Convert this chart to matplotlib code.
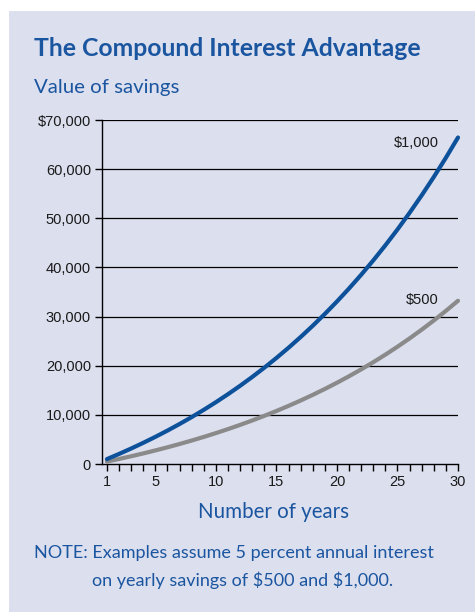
import matplotlib
matplotlib.use("Agg")
import matplotlib.pyplot as plt
from matplotlib.patches import Rectangle

plt.rcParams["text.parse_math"] = False

years = list(range(1, 31))
savings_1000 = [1000, 2050, 3152, 4310, 5526, 6802, 8142, 9549, 11027, 12578,
                14207, 15917, 17713, 19599, 21579, 23657, 25840, 28132, 30539, 33066,
                35719, 38505, 41430, 44502, 47727, 51113, 54669, 58403, 62323, 66439]
savings_500 = [500, 1025, 1576, 2155, 2763, 3401, 4071, 4775, 5513, 6289,
               7103, 7959, 8856, 9799, 10789, 11829, 12920, 14066, 15270, 16533,
               17860, 19253, 20715, 22251, 23864, 25557, 27335, 29201, 31161, 33219]
y_ticks = [0, 10000, 20000, 30000, 40000, 50000, 60000, 70000]
y_labels = ["0", "10,000", "20,000", "30,000", "40,000", "50,000", "60,000", "$70,000"]
x_label_ticks = [1, 5, 10, 15, 20, 25, 30]

BG = "#dcdfee"
BLUE = "#0d519b"
TXT_BLUE = "#1a55a0"
GRAY = "#8a8a8a"

W, H = 475, 612
fig = plt.figure(figsize=(W / 100, H / 100), dpi=100)
fig.patch.set_facecolor("white")
fig.add_artist(Rectangle((9 / W, 0), 1 - 9 / W, 1 - 11 / H, transform=fig.transFigure,
                         facecolor=BG, edgecolor="none", zorder=0))

ax = fig.add_axes([102 / W, 148 / H, (458 - 102) / W, (492 - 148) / H])
ax.set_facecolor("none")
ax.set_xlim(0.59, 30)
ax.set_ylim(0, 70000)

for t in y_ticks[1:]:
    ax.axhline(t, color="black", lw=0.9, zorder=1)

ax.plot(years, savings_500, color=GRAY, lw=3, solid_capstyle="round", clip_on=False, zorder=3)
ax.plot(years, savings_1000, color=BLUE, lw=3, solid_capstyle="round", clip_on=False, zorder=4)

for s in ["top", "right"]:
    ax.spines[s].set_visible(False)
ax.spines["left"].set_linewidth(1.0)
ax.spines["bottom"].set_linewidth(1.0)

TICK_FS = 10.5
ax.set_yticks(y_ticks)
ax.set_yticklabels(y_labels, fontfamily="Liberation Sans", fontsize=TICK_FS, color="#1a1a1a")
ax.set_xticks(years, minor=False)
ax.set_xticklabels([str(y) if y in x_label_ticks else "" for y in years],
                   fontfamily="Liberation Sans", fontsize=TICK_FS, color="#1a1a1a")
ax.tick_params(axis="both", direction="out", length=5, width=1.0, color="black")
ax.tick_params(axis="x", pad=3)
ax.tick_params(axis="y", pad=3)

ax.text(28.4, 65300, "$1,000", ha="right", va="center", fontfamily="Liberation Sans",
        fontsize=TICK_FS, color="#1a1a1a")
ax.text(28.4, 33400, "$500", ha="right", va="center", fontfamily="Liberation Sans",
        fontsize=TICK_FS, color="#1a1a1a")

fig.text(34 / W, 1 - 49 / H, "The Compound Interest Advantage", fontfamily="Lato",
         fontweight="bold", fontsize=17.8, color=TXT_BLUE, va="center", ha="left")
fig.text(34 / W, 1 - 88 / H, "Value of savings", fontfamily="Lato",
         fontsize=14.7, color=TXT_BLUE, va="center", ha="left")
fig.text(273 / W, 1 - 512 / H, "Number of years", fontfamily="Lato",
         fontsize=14.8, color=TXT_BLUE, va="center", ha="center")
fig.text(34 / W, 1 - 553 / H, "NOTE: Examples assume 5 percent annual interest",
         fontfamily="Lato", fontsize=13, color=TXT_BLUE, va="center", ha="left")
fig.text(92 / W, 1 - 580 / H, "on yearly savings of $500 and $1,000.",
         fontfamily="Lato", fontsize=13, color=TXT_BLUE, va="center", ha="left")

fig.savefig("out.png", dpi=100, facecolor=fig.get_facecolor())
